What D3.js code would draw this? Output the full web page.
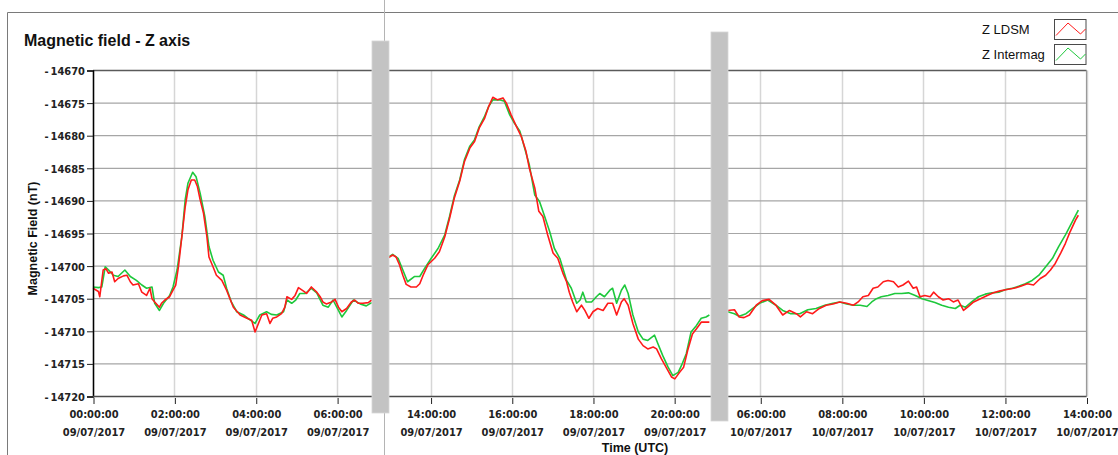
<!DOCTYPE html>
<html>
<head>
<meta charset="utf-8">
<script src="https://cdn.jsdelivr.net/npm/d3@7"></script>
<style>
  html, body { margin: 0; padding: 0; background: #fff; }
  svg { display: block; }
  .tick-label { font-family: "DejaVu Sans Condensed", "DejaVu Sans", sans-serif; font-stretch: condensed; font-weight: bold; font-size: 11px; fill: #222; }
  .axis-title { font-family: "Liberation Sans", Arial, sans-serif; font-weight: bold; font-size: 12.5px; fill: #111; }
</style>
</head>
<body>
<svg id="chart" width="1118" height="455"></svg>
<script>
// Z-axis magnetic field, two magnetometers, three recording windows.
// Time is in minutes after 09/07/2017 00:00 UTC.

const seriesNames = ["Z LDSM", "Z Intermag"];
const seriesColors = ["#ff1a1a", "#1ec83c"];

// Recording windows shown side by side (start, end), in minutes
const windowStarts = [0, 766, 1740];
const windowEnds = [424, 1267, 2280];

const yTicks = [-14670, -14675, -14680, -14685, -14690, -14695, -14700, -14705, -14710, -14715, -14720];
const xTickMinutes = [0, 120, 240, 360, 840, 960, 1080, 1200, 1800, 1920, 2040, 2160, 2280];

const ldsmMinutes = [
  0,8,10,15,19,23,28,32,37,45,50,55,59,67,72,79,84,87,91,98,101,106,113,118,122,126,131,136,140,145,
  150,154,158,163,168,171,177,182,190,197,202,207,217,227,234,239,244,249,256,261,265,271,278,283,286,
  293,298,303,310,315,322,330,335,339,344,352,357,362,367,374,381,386,391,398,406,411,
  778,784,789,794,799,804,811,819,824,829,836,846,853,861,868,875,883,890,898,905,912,920,926,932,939,
  947,952,959,967,974,981,986,994,1000,1006,1013,1021,1028,1036,1041,1045,1050,1056,1063,1068,1074,1080,
  1087,1095,1102,1109,1115,1122,1126,1132,1139,1147,1154,1161,1169,1174,1181,1188,1196,1201,1208,1214,
  1220,1227,1233,1240,1247,1252,
  1752,1762,1769,1776,1784,1794,1803,1813,1823,1833,1843,1853,1859,1868,1877,1887,1897,1907,1917,1927,
  1937,1944,1951,1959,1966,1973,1981,1988,1996,2003,2010,2018,2025,2030,2035,2042,2050,2055,2062,2069,
  2077,2084,2091,2099,2106,2114,2124,2134,2143,2153,2163,2173,2183,2193,2202,2212,2220,2227,2234,2242,
  2249,2256,2264,2268
];
const ldsmNT = [
  -14703.4,-14703.9,-14704.7,-14700.6,-14700.4,-14701.1,-14700.9,-14702.4,-14701.9,-14701.5,
  -14701.4,-14702.4,-14702.9,-14702.7,-14704.0,-14704.5,-14703.4,-14705.0,-14705.5,-14706.3,
  -14705.7,-14705.2,-14704.7,-14703.7,-14702.9,-14700.1,-14695.5,-14690.9,-14688.3,-14686.8,
  -14686.8,-14687.8,-14689.8,-14691.9,-14695.5,-14698.6,-14700.1,-14701.4,-14702.2,-14703.7,
  -14705.0,-14706.3,-14707.5,-14708.0,-14708.3,-14710.1,-14708.8,-14707.5,-14707.3,-14708.8,
  -14708.0,-14707.8,-14707.3,-14706.3,-14704.7,-14705.1,-14704.5,-14703.3,-14703.8,-14704.2,
  -14703.2,-14704.0,-14704.7,-14705.5,-14705.8,-14705.5,-14705.1,-14706.3,-14707.0,-14706.5,
  -14705.5,-14705.2,-14705.7,-14705.7,-14705.6,-14705.2,
  -14698.7,-14698.3,-14698.6,-14699.8,-14701.4,-14702.8,-14703.2,-14703.2,-14702.7,-14701.4,
  -14699.8,-14698.8,-14697.8,-14695.5,-14692.7,-14689.6,-14687.0,-14684.0,-14681.9,-14680.9,
  -14678.8,-14677.3,-14675.5,-14674.1,-14674.5,-14674.2,-14675.0,-14676.8,-14678.6,-14680.1,
  -14682.4,-14685.0,-14688.0,-14691.6,-14692.4,-14695.2,-14698.0,-14698.8,-14701.2,-14702.4,
  -14704.0,-14705.5,-14707.0,-14706.0,-14706.8,-14708.0,-14707.0,-14706.5,-14706.8,-14705.7,
  -14705.7,-14707.5,-14705.5,-14705.0,-14706.0,-14708.8,-14711.2,-14712.2,-14712.7,-14712.4,
  -14712.7,-14714.2,-14715.5,-14717.0,-14717.3,-14716.3,-14715.5,-14712.9,-14710.4,-14709.6,
  -14708.6,-14708.6,-14708.6,
  -14706.8,-14706.7,-14707.8,-14707.9,-14707.5,-14706.0,-14705.3,-14705.1,-14706.0,-14707.5,
  -14706.8,-14707.3,-14707.8,-14707.0,-14707.3,-14706.5,-14706.0,-14705.8,-14705.5,-14705.7,
  -14706.0,-14705.5,-14704.7,-14704.5,-14703.4,-14703.2,-14702.4,-14702.2,-14702.4,-14703.2,
  -14702.9,-14702.3,-14703.4,-14703.2,-14704.7,-14704.5,-14704.7,-14704.0,-14704.7,-14705.2,
  -14705.0,-14705.5,-14705.2,-14706.8,-14706.2,-14705.5,-14705.0,-14704.5,-14704.1,-14703.8,
  -14703.6,-14703.4,-14703.1,-14702.7,-14702.9,-14701.9,-14701.4,-14700.6,-14699.6,-14698.0,
  -14696.5,-14694.7,-14692.9,-14692.2
];

const intermagMinutes = [
  0,8,13,18,23,30,37,47,55,64,72,79,87,91,98,104,113,118,124,131,136,140,147,152,158,165,171,177,185,192,
  197,204,212,222,231,239,246,256,263,271,281,286,293,299,305,313,322,330,339,347,354,362,367,374,384,
  394,403,411,
  778,784,792,799,806,816,824,831,841,851,861,868,875,883,890,898,905,912,920,926,932,942,949,957,964,
  972,979,986,994,1001,1008,1016,1023,1031,1041,1048,1056,1061,1065,1070,1078,1085,1090,1097,1105,1109,
  1115,1122,1127,1132,1139,1147,1154,1161,1171,1176,1183,1191,1198,1206,1211,1218,1225,1233,1240,1247,1252,
  1752,1762,1769,1779,1789,1799,1811,1823,1833,1845,1858,1870,1882,1895,1907,1917,1927,1937,1947,1957,
  1964,1971,1978,1988,1998,2008,2018,2028,2038,2048,2057,2067,2077,2087,2094,2102,2111,2121,2131,2141,
  2151,2161,2171,2180,2190,2200,2210,2220,2230,2239,2249,2259,2268
];
const intermagNT = [
  -14703.2,-14703.3,-14703.2,-14700.1,-14700.6,-14701.4,-14701.6,-14700.6,-14701.6,-14702.2,
  -14702.9,-14703.4,-14703.2,-14705.7,-14706.8,-14705.7,-14704.5,-14703.2,-14700.6,-14695.5,
  -14689.8,-14687.3,-14685.6,-14686.3,-14688.8,-14692.4,-14697.0,-14699.1,-14700.9,-14701.4,
  -14703.4,-14705.5,-14707.0,-14707.5,-14708.2,-14708.8,-14707.5,-14707.0,-14707.4,-14707.5,
  -14707.0,-14705.2,-14705.7,-14705.2,-14704.2,-14704.2,-14703.4,-14704.1,-14706.0,-14706.3,
  -14705.2,-14706.8,-14707.8,-14706.8,-14705.2,-14705.8,-14706.1,-14705.6,
  -14698.6,-14698.2,-14698.8,-14700.6,-14702.4,-14701.6,-14701.6,-14700.4,-14698.8,-14697.3,
  -14695.2,-14692.4,-14689.3,-14686.8,-14683.7,-14681.6,-14680.6,-14678.6,-14677.0,-14675.5,
  -14674.5,-14674.5,-14674.7,-14676.8,-14678.1,-14679.3,-14681.9,-14684.5,-14689.1,-14690.1,
  -14692.2,-14694.7,-14697.3,-14698.8,-14702.2,-14703.4,-14705.7,-14705.2,-14704.0,-14705.5,
  -14705.5,-14704.7,-14704.2,-14704.7,-14703.7,-14703.4,-14705.7,-14703.7,-14702.9,-14704.2,
  -14707.5,-14710.1,-14711.2,-14711.4,-14710.6,-14711.9,-14713.7,-14715.5,-14716.8,-14716.3,
  -14715.2,-14713.4,-14710.1,-14709.1,-14708.0,-14707.8,-14707.5,
  -14707.0,-14707.3,-14707.7,-14707.3,-14706.5,-14705.7,-14705.2,-14706.0,-14706.8,-14707.3,
  -14707.3,-14706.7,-14706.5,-14706.0,-14705.7,-14705.5,-14705.8,-14706.0,-14706.0,-14706.2,
  -14705.5,-14705.0,-14704.7,-14704.5,-14704.2,-14704.2,-14704.1,-14704.5,-14705.0,-14705.3,
  -14705.6,-14706.0,-14706.3,-14706.5,-14706.0,-14706.3,-14705.5,-14704.7,-14704.3,-14704.1,
  -14704.0,-14703.6,-14703.4,-14703.1,-14702.7,-14702.2,-14701.4,-14700.1,-14698.8,-14697.0,
  -14695.2,-14693.2,-14691.4
];

// ---- layout ----
const plot = { left: 93, right: 1086.5, top: 70.5, bottom: 396.5 };
const seams = [380.5, 719.5];

const t0 = Date.UTC(2017, 6, 9);
const toDate = m => new Date(t0 + m * 60000);

// Piecewise time scale: each recording window keeps the same hours-per-pixel,
// the gaps between windows collapse onto a seam.
const x = d3.scaleUtc()
  .domain([
    toDate(windowStarts[0]), toDate(windowEnds[0]),
    toDate(windowStarts[1]), toDate(windowEnds[1]),
    toDate(windowStarts[2]), toDate(windowEnds[2])
  ])
  .range([plot.left, seams[0], seams[0], seams[1], seams[1], plot.right]);

const y = d3.scaleLinear().domain([-14720, -14670]).range([plot.bottom, plot.top]);

const svg = d3.select("#chart");

// outer frame of the panel
svg.append("line").attr("x1", 7.5).attr("x2", 1118).attr("y1", 12.5).attr("y2", 12.5)
  .attr("stroke", "#7a7a7a").attr("stroke-width", 1);
svg.append("line").attr("x1", 7.5).attr("x2", 7.5).attr("y1", 12.5).attr("y2", 455)
  .attr("stroke", "#7a7a7a").attr("stroke-width", 1);
// separator between panels
svg.append("line").attr("x1", 384.5).attr("x2", 384.5).attr("y1", 0).attr("y2", 455)
  .attr("stroke", "#b4b4b4").attr("stroke-width", 1);

// title
svg.append("text").attr("x", 24).attr("y", 46)
  .attr("font-family", "'Liberation Sans', Arial, sans-serif")
  .attr("font-weight", "bold").attr("font-size", 16).attr("fill", "#111")
  .text("Magnetic field - Z axis");

// plot background
svg.append("rect").attr("x", plot.left).attr("y", plot.top)
  .attr("width", plot.right - plot.left).attr("height", plot.bottom - plot.top)
  .attr("fill", "#fff");

// grid
const grid = svg.append("g");
grid.selectAll(".vgrid").data(xTickMinutes).join("line")
  .attr("x1", d => Math.round(x(toDate(d))) + 0.5).attr("x2", d => Math.round(x(toDate(d))) + 0.5)
  .attr("y1", plot.top).attr("y2", plot.bottom)
  .attr("stroke", "#d6d6d6").attr("stroke-width", 1.5);
grid.selectAll(".hgrid").data(yTicks).join("line")
  .attr("x1", plot.left).attr("x2", plot.right)
  .attr("y1", d => y(d)).attr("y2", d => y(d))
  .attr("stroke", "#a6a6a6").attr("stroke-width", 1.2);

// plot border
svg.append("line").attr("x1", plot.left).attr("x2", plot.right).attr("y1", plot.top).attr("y2", plot.top)
  .attr("stroke", "#5a5a5a").attr("stroke-width", 1.5);
svg.append("line").attr("x1", plot.right).attr("x2", plot.right).attr("y1", plot.top).attr("y2", plot.bottom)
  .attr("stroke", "#9a9a9a").attr("stroke-width", 1.2);

// series lines, broken at the gaps between windows
function toPoints(minutes, values) {
  const pts = minutes.map((m, i) => ({ t: toDate(m), v: values[i], m }));
  const out = [];
  pts.forEach((p, i) => {
    if (i > 0 && p.m - pts[i - 1].m > 120) out.push(null);
    out.push(p);
  });
  return out;
}
const line = d3.line().defined(d => d !== null)
  .x(d => x(d.t)).y(d => y(d.v)).curve(d3.curveLinear);

const series = [
  { name: seriesNames[1], color: seriesColors[1], pts: toPoints(intermagMinutes, intermagNT) },
  { name: seriesNames[0], color: seriesColors[0], pts: toPoints(ldsmMinutes, ldsmNT) }
];
svg.append("g").selectAll("path").data(series).join("path")
  .attr("d", d => line(d.pts))
  .attr("fill", "none").attr("stroke", d => d.color)
  .attr("stroke-width", 1.6).attr("stroke-linejoin", "round");

// y axis
const yAxis = d3.axisLeft(y).tickValues(yTicks).tickSize(6).tickPadding(2)
  .tickFormat(d => "-\u2009" + Math.abs(d));
const gy = svg.append("g").attr("transform", `translate(${plot.left},0)`).call(yAxis);
gy.select(".domain").attr("stroke", "#000").attr("stroke-width", 1.5);
gy.selectAll(".tick line").attr("stroke", "#222");
gy.selectAll(".tick text").attr("class", "tick-label").attr("dy", "0.36em");

// x axis
const xFmtTime = d3.utcFormat("%H:%M:%S");
const xFmtDate = d3.utcFormat("%d/%m/%Y");
const xAxis = d3.axisBottom(x).tickValues(xTickMinutes.map(toDate)).tickSize(6).tickFormat("");
const gx = svg.append("g").attr("transform", `translate(0,${plot.bottom + 1.5})`).call(xAxis);
gx.select(".domain").remove();
gx.selectAll(".tick line").attr("stroke", "#222").attr("transform", "translate(0.5,0)");
gx.selectAll(".tick").each(function (d) {
  const g = d3.select(this);
  g.append("text").attr("class", "tick-label").attr("text-anchor", "middle")
    .attr("x", 0.5).attr("y", 20).text(xFmtTime(d));
  g.append("text").attr("class", "tick-label").attr("text-anchor", "middle")
    .attr("x", 0.5).attr("y", 38).text(xFmtDate(d));
});
svg.append("line").attr("x1", plot.left).attr("x2", plot.right)
  .attr("y1", plot.bottom).attr("y2", plot.bottom)
  .attr("stroke", "#4a4a4a").attr("stroke-width", 1.5);

// axis titles
svg.append("text").attr("class", "axis-title")
  .attr("transform", "translate(37,238.5) rotate(-90)").attr("text-anchor", "middle")
  .text("Magnetic Field (nT)");
svg.append("text").attr("class", "axis-title")
  .attr("x", 635).attr("y", 451.5).attr("text-anchor", "middle")
  .text("Time (UTC)");

// seam markers between recording windows
const seamBars = [{ x: seams[0], top: 41, bottom: 413 }, { x: seams[1], top: 32, bottom: 421 }];
svg.append("g").selectAll("rect").data(seamBars).join("rect")
  .attr("x", d => d.x - 8.5).attr("width", 17)
  .attr("y", d => d.top).attr("height", d => d.bottom - d.top)
  .attr("fill", "#c3c3c3").attr("stroke", "#d6d6d6").attr("stroke-width", 0.8);

// legend
const zig = d3.line();
const legendIcon = [[1.5, 16], [13.5, 3.5], [26, 14.5], [31, 9.5]];
const legend = svg.append("g").selectAll("g").data([0, 1]).join("g")
  .attr("transform", i => `translate(0,${i === 0 ? 0 : 25})`);
legend.append("text").attr("x", 982).attr("y", 34)
  .attr("font-family", "'Liberation Sans', Arial, sans-serif").attr("font-size", 13).attr("fill", "#111")
  .text(i => seriesNames[i]);
legend.append("rect").attr("x", 1054.5).attr("y", 19.5).attr("width", 31.5).attr("height", 20)
  .attr("fill", "#fff").attr("stroke", "#4a4a4a").attr("stroke-width", 1);
legend.append("path")
  .attr("transform", "translate(1054.5,19.5)")
  .attr("d", zig(legendIcon)).attr("fill", "none")
  .attr("stroke", i => seriesColors[i]).attr("stroke-width", 1);
</script>
</body>
</html>
